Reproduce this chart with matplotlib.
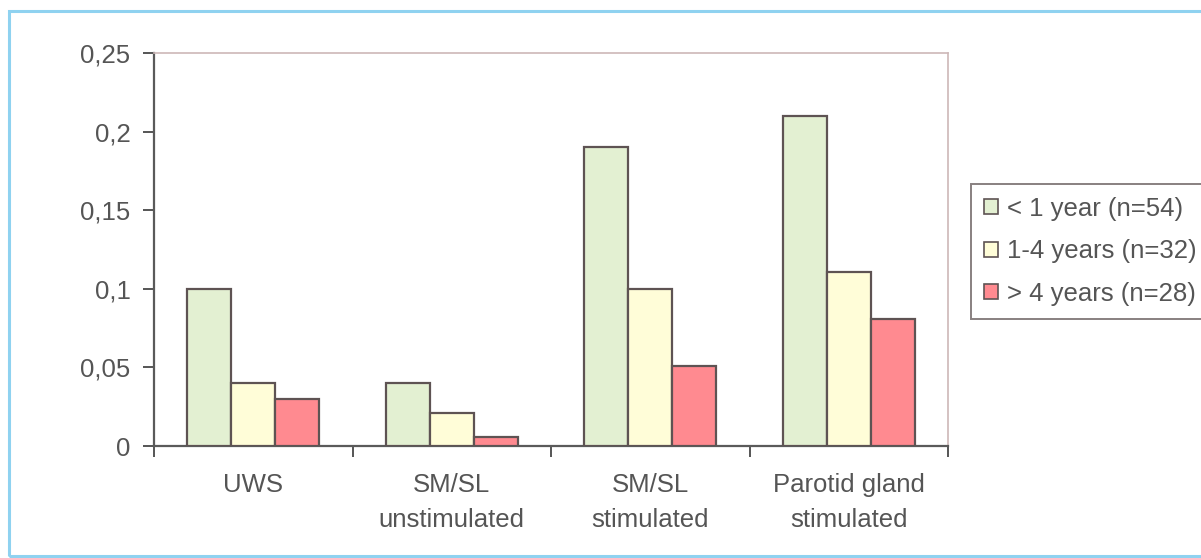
import matplotlib
matplotlib.use("Agg")
import matplotlib.pyplot as plt
import numpy as np
from matplotlib.patches import Rectangle, Patch

categories = ["UWS", "SM/SL\nunstimulated", "SM/SL\nstimulated", "Parotid gland\nstimulated"]
series_names = ["< 1 year (n=54)", "1-4 years (n=32)", "> 4 years (n=28)"]
lt1 = [0.10, 0.04, 0.19, 0.21]
y1_4 = [0.04, 0.021, 0.10, 0.111]
gt4 = [0.03, 0.006, 0.051, 0.081]
yticks = [0, 0.05, 0.10, 0.15, 0.20, 0.25]
ytick_labels = ["0", "0,05", "0,1", "0,15", "0,2", "0,25"]

colors = ["#E3F0D2", "#FFFDD8", "#FF8A90"]
edge = "#5E5353"
txt = "#555555"

plt.rcParams['font.family'] = ['Liberation Sans', 'DejaVu Sans']

W, H = 1201, 558
fig = plt.figure(figsize=(W / 100, H / 100), dpi=100)
fig.patch.set_facecolor("white")

# light blue outer frame
fig.patches.append(Rectangle((9 / W, 1 - 556 / H), 1.2, (556 - 11) / H, transform=fig.transFigure,
                             fill=False, edgecolor="#8FD2F0", linewidth=2.2))

ax = fig.add_axes([154 / W, (H - 446) / H, (948 - 154) / W, (446 - 53) / H])
x = np.arange(len(categories))
w = 0.222
for i, vals in enumerate([lt1, y1_4, gt4]):
    ax.bar(x + (i - 1) * w, vals, width=w, color=colors[i], edgecolor=edge, linewidth=1.6,
           label=series_names[i], zorder=3)

ax.set_xlim(-0.5, len(categories) - 0.5)
ax.set_ylim(0, 0.25)
ax.set_yticks(yticks)
ax.set_yticklabels(ytick_labels)
ax.set_xticks(x)
ax.set_xticklabels(categories, linespacing=1.55)
ax.set_xticks(np.arange(-0.5, len(categories)), minor=True)
ax.tick_params(axis='x', which='major', length=0, pad=19.5, labelsize=18.5, labelcolor=txt)
ax.tick_params(axis='x', which='minor', length=8, width=1.4, color="#555555", direction='out')
ax.tick_params(axis='y', length=8, width=1.4, color="#555555", labelsize=18.5, labelcolor=txt, pad=9)

for s in ['left', 'bottom']:
    ax.spines[s].set_color("#5A5A5A")
    ax.spines[s].set_linewidth(1.6)
for s in ['top', 'right']:
    ax.spines[s].set_color("#CDB8B8")
    ax.spines[s].set_linewidth(1.2)

handles = [Patch(facecolor=colors[i], edgecolor=edge, linewidth=1.2) for i in range(3)]
leg = fig.legend(handles, series_names, loc='upper left', bbox_to_anchor=(971 / W, 1 - 184 / H),
                 fontsize=18.5, frameon=True, fancybox=False, handlelength=0.55, handleheight=0.55,
                 handletextpad=0.35, labelspacing=0.72, borderpad=0.5, borderaxespad=0)
leg.get_frame().set_edgecolor("#6A6060")
leg.get_frame().set_linewidth(1.4)
for t in leg.get_texts():
    t.set_color(txt)

fig.savefig("out.png", dpi=100)
